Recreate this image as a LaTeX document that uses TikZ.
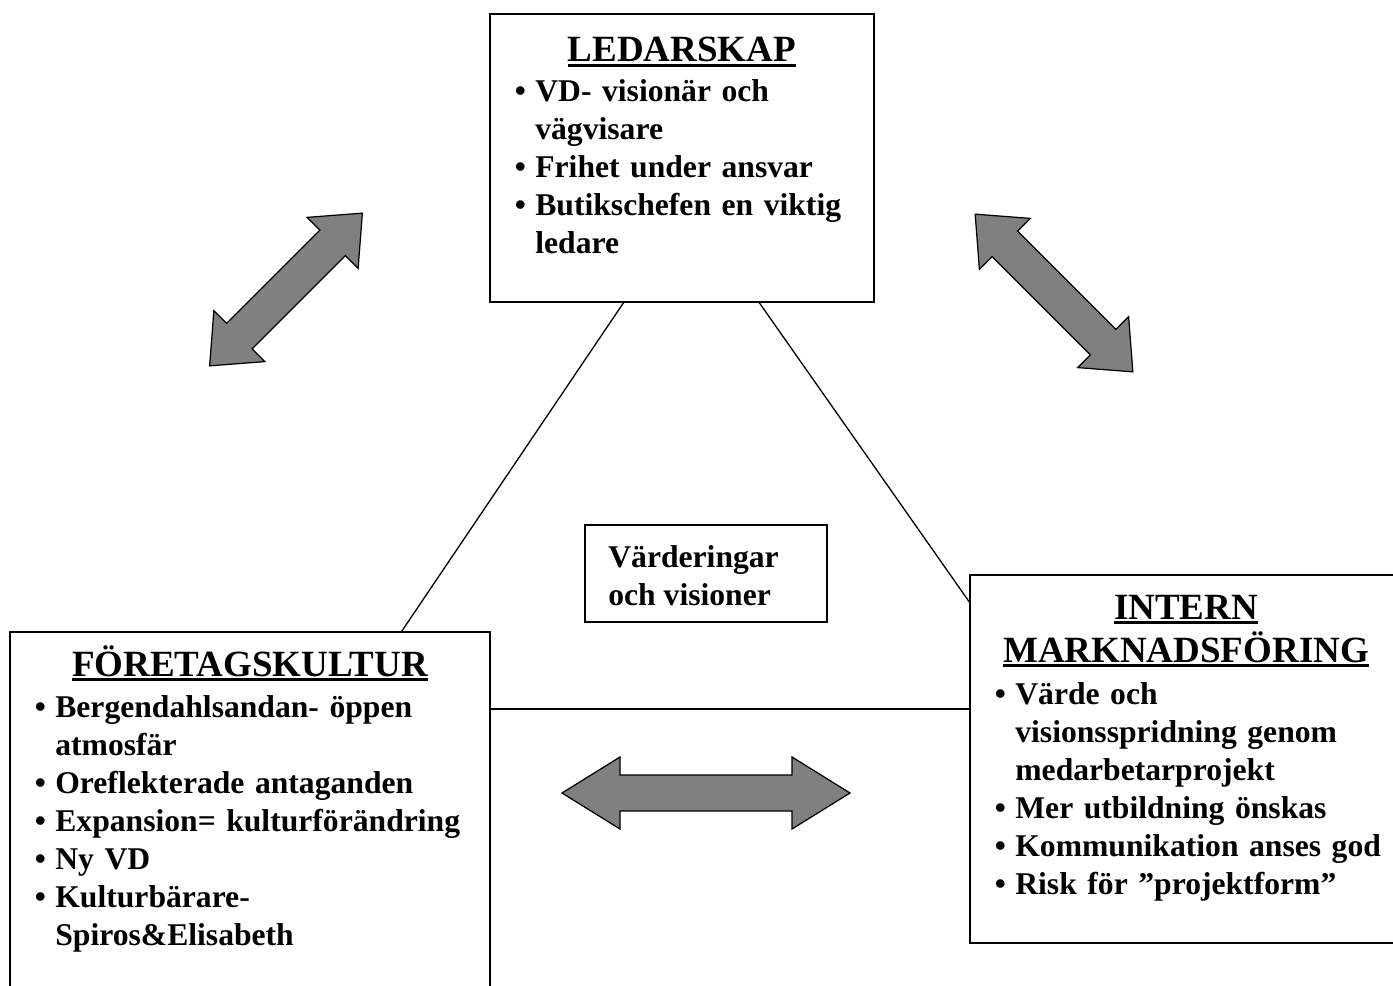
\documentclass[tikz,border=0pt]{standalone}
\usepackage{fontspec}
\setmainfont{Liberation Serif}
\usepackage{enumitem}
\usetikzlibrary{calc,positioning}

\setlist[itemize]{label=\textbullet, leftmargin=0.9cm, labelsep=0.19cm,
  itemsep=0pt, topsep=0pt, parsep=0pt, partopsep=0pt}
% understruken rubrik
\newcommand{\ulhead}[1]{\setbox0=\hbox{#1}\rlap{\rule[-3.0pt]{\wd0}{2.1pt}}\box0}

\begin{document}
\begin{tikzpicture}[
    panel/.style={draw, line width=1.1pt, inner sep=0pt, outer sep=0pt, anchor=north west},
    head/.style={font=\fontsize{21.05pt}{24.47pt}\selectfont\bfseries, inner sep=0pt, align=center},
    itemlist/.style={font=\fontsize{18.0pt}{21.6pt}\selectfont\bfseries\raggedright, inner sep=0pt,
                     anchor=north west, text width=#1},
    valtext/.style={font=\fontsize{18.0pt}{21.6pt}\selectfont\bfseries, inner sep=0pt,
                    anchor=north west, align=left},
    link/.style={line width=0.75pt},
    bigarrow/.style={fill=gray, draw=black, line width=0.7pt},
  ]
    \useasboundingbox (0,0) rectangle (27.86,-19.72);

    % Rutor
    \node[panel, minimum width=7.68cm, minimum height=5.76cm] (led) at (9.8,-0.28) {};
    \node[panel, minimum width=9.6cm,  minimum height=7.36cm] (kul) at (0.2,-12.64) {};
    \node[panel, minimum width=8.64cm, minimum height=7.36cm] (int) at (19.4,-11.5) {};
    \node[panel, minimum width=4.84cm, minimum height=1.94cm] (val) at (11.7,-10.5) {};

    % Rubriker
    \node[head, anchor=base]  (ledHead) at (13.64,-1.24) {\ulhead{LEDARSKAP}};
    \node[head, anchor=base]  (kulHead) at (5.0,-13.52)  {\ulhead{FÖRETAGSKULTUR}};
    \node[head, anchor=north] (intHead) at (23.72,-11.89) {\ulhead{INTERN}\\\ulhead{MARKNADSFÖRING}};

    % Punktlistor
    \node[itemlist=7.5cm] (ledList) at (9.8,-1.268) {%
      \begin{itemize}
        \item VD- visionär och\newline vägvisare
        \item Frihet under ansvar
        \item Butikschefen en viktig\newline ledare
      \end{itemize}};
    \node[itemlist=9.5cm] (kulList) at (0.2,-13.59) {%
      \begin{itemize}
        \item Bergendahlsandan- öppen\newline atmosfär
        \item Oreflekterade antaganden
        \item Expansion= kulturförändring
        \item Ny VD
        \item Kulturbärare-\newline Spiros\&Elisabeth
      \end{itemize}};
    \node[itemlist=8.6cm] (intList) at (19.4,-13.328) {%
      \begin{itemize}
        \item Värde och\newline visionsspridning genom\newline medarbetarprojekt
        \item Mer utbildning önskas
        \item Kommunikation anses god
        \item Risk för ”projektform”
      \end{itemize}};

    \node[valtext] (valText) at (12.16,-10.9) {Värderingar\\och visioner};

    % Linjer mellan rutorna
    \draw[link] ($(led.south west)!0.349!(led.south east)$) -- ($(kul.north west)!0.815!(kul.north east)$);
    \draw[link] ($(led.south west)!0.7!(led.south east)$) -- ($(int.north west)!0.076!(int.south west)$);
    \coordinate (kulR) at ($(kul.north east)!0.209!(kul.south east)$);
    \draw[link] (kulR) -- (kulR -| int.west);

    % Dubbelpilar
    \foreach \cx/\cy/\ang/\len/\hd in {14.12/-15.86/0/2.88/1.16, 5.72/-5.79/45/2.16/0.84, 21.08/-5.86/-45/2.23/0.84}
      \filldraw[bigarrow, shift={(\cx,\cy)}, rotate=\ang]
        (-\len,0) -- (-\len+\hd,0.72) -- (-\len+\hd,0.36) -- (\len-\hd,0.36) -- (\len-\hd,0.72)
        -- (\len,0) -- (\len-\hd,-0.72) -- (\len-\hd,-0.36) -- (-\len+\hd,-0.36) -- (-\len+\hd,-0.72) -- cycle;
  \end{tikzpicture}
\end{document}
